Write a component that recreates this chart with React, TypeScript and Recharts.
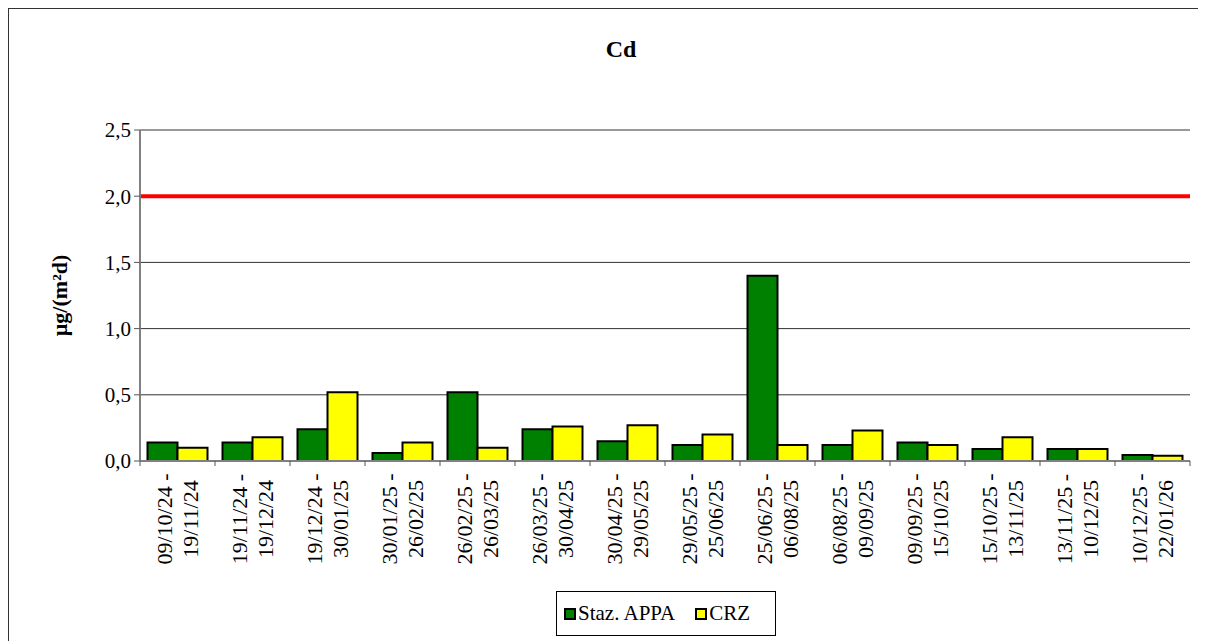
import {
  BarChart,
  Bar,
  XAxis,
  YAxis,
  CartesianGrid,
  ReferenceLine,
} from 'recharts'

document.body.style.overflow = 'hidden'

const FONT = 'Liberation Serif'

const startDates = ['09/10/24', '19/11/24', '19/12/24', '30/01/25', '26/02/25', '26/03/25', '30/04/25', '29/05/25', '25/06/25', '06/08/25', '09/09/25', '15/10/25', '13/11/25', '10/12/25']
const endDates = ['19/11/24', '19/12/24', '30/01/25', '26/02/25', '26/03/25', '30/04/25', '29/05/25', '25/06/25', '06/08/25', '09/09/25', '15/10/25', '13/11/25', '10/12/25', '22/01/26']
const appa = [0.14, 0.14, 0.24, 0.06, 0.52, 0.24, 0.15, 0.12, 1.4, 0.12, 0.14, 0.09, 0.09, 0.045]
const crz = [0.1, 0.18, 0.52, 0.14, 0.1, 0.26, 0.27, 0.2, 0.12, 0.23, 0.12, 0.18, 0.09, 0.04]
const yTicks = [0, 0.5, 1, 1.5, 2, 2.5]
const limit = 2.0

const data = startDates.map((s, i) => ({ cat: i, start: s, end: endDates[i], appa: appa[i], crz: crz[i] }))

function DateTick({ x, y, payload, index }: any) {
  const half = payload?.offset ?? 37.5
  const d = data[payload.value] ?? data[index]
  return (
    <g>
      <line x1={x - half} x2={x - half} y1={y} y2={y + 5} stroke="#555" />
      {index === data.length - 1 && <line x1={x + half} x2={x + half} y1={y} y2={y + 5} stroke="#555" />}
      <g transform={`translate(${x},${y + 58}) rotate(-90)`}>
        <text textAnchor="middle" style={{ fontFamily: FONT, fontSize: 22 }} fill="#000">
          <tspan x={0} y={-6}>{d.start} -</tspan>
          <tspan x={0} y={20.5}>{d.end}</tspan>
        </text>
      </g>
    </g>
  )
}

function YLabel({ viewBox }: any) {
  const cx = 51
  const cy = viewBox.y + viewBox.height / 2
  return (
    <text x={cx + 7} y={cy} transform={`rotate(-90 ${cx + 7} ${cy})`} textAnchor="middle" style={{ fontFamily: FONT, fontSize: 22, fontWeight: 'bold' }} fill="#000">
      µg/(m²d)
    </text>
  )
}

function Swatch({ color }: { color: string }) {
  return <div style={{ width: 8, height: 8, background: color, border: '2px solid #000', marginRight: 2 }} />
}

export default function App() {
  return (
    <div style={{ position: 'relative', width: 1197, height: 632, borderTop: '1px solid #333', borderLeft: '1px solid #333', fontFamily: FONT }}>
      <div style={{ position: 'absolute', left: 562, top: 28, width: 100, textAlign: 'center', fontSize: 24, lineHeight: '24px', fontWeight: 'bold' }}>
        Cd
      </div>
      <BarChart
        width={1197}
        height={632}
        data={data}
        margin={{ top: 121, right: 16, left: 71, bottom: 70 }}
        barCategoryGap="10%"
        barGap={0}
        style={{ fontFamily: FONT }}
      >
        <CartesianGrid vertical={false} stroke="#333" />
        <XAxis
          dataKey="cat"
          type="category"
          height={110}
          interval={0}
          tickSize={0}
          tickMargin={0}
          tickLine={false}
          axisLine={{ stroke: '#808080', strokeWidth: 2 }}
          tick={<DateTick />}
        />
        <XAxis xAxisId="top" dataKey="cat" orientation="top" height={0} tick={false} tickLine={false} axisLine={{ stroke: '#808080', strokeWidth: 2 }} />
        <YAxis
          domain={[0, 2.5]}
          ticks={yTicks}
          width={60}
          tickSize={6}
          tickMargin={3}
          tickLine={{ stroke: '#555' }}
          axisLine={{ stroke: '#808080', strokeWidth: 2 }}
          tick={{ fill: '#000', fontSize: 21, style: { fontFamily: FONT } }}
          tickFormatter={(v: number) => v.toFixed(1).replace('.', ',')}
          label={{ content: <YLabel /> }}
        />
        <YAxis yAxisId="right" orientation="right" domain={[0, 2.5]} width={0} tick={false} tickLine={false} axisLine={{ stroke: '#808080', strokeWidth: 2 }} />
        <Bar dataKey="appa" name="Staz. APPA" fill="#008000" stroke="#000" strokeWidth={2} isAnimationActive={false} />
        <Bar dataKey="crz" name="CRZ" fill="#FFFF00" stroke="#000" strokeWidth={2} isAnimationActive={false} />
        <ReferenceLine y={limit} stroke="#FF0000" strokeWidth={4} />
      </BarChart>
      <div style={{ position: 'absolute', left: 547, top: 582, width: 218, height: 43, border: '1px solid #000', display: 'flex', alignItems: 'center', fontSize: 21 }}>
        <div style={{ display: 'flex', alignItems: 'center', marginLeft: 7 }}>
          <Swatch color="#008000" />
          <span>Staz. APPA</span>
        </div>
        <div style={{ display: 'flex', alignItems: 'center', marginLeft: 20 }}>
          <Swatch color="#FFFF00" />
          <span>CRZ</span>
        </div>
      </div>
    </div>
  )
}
